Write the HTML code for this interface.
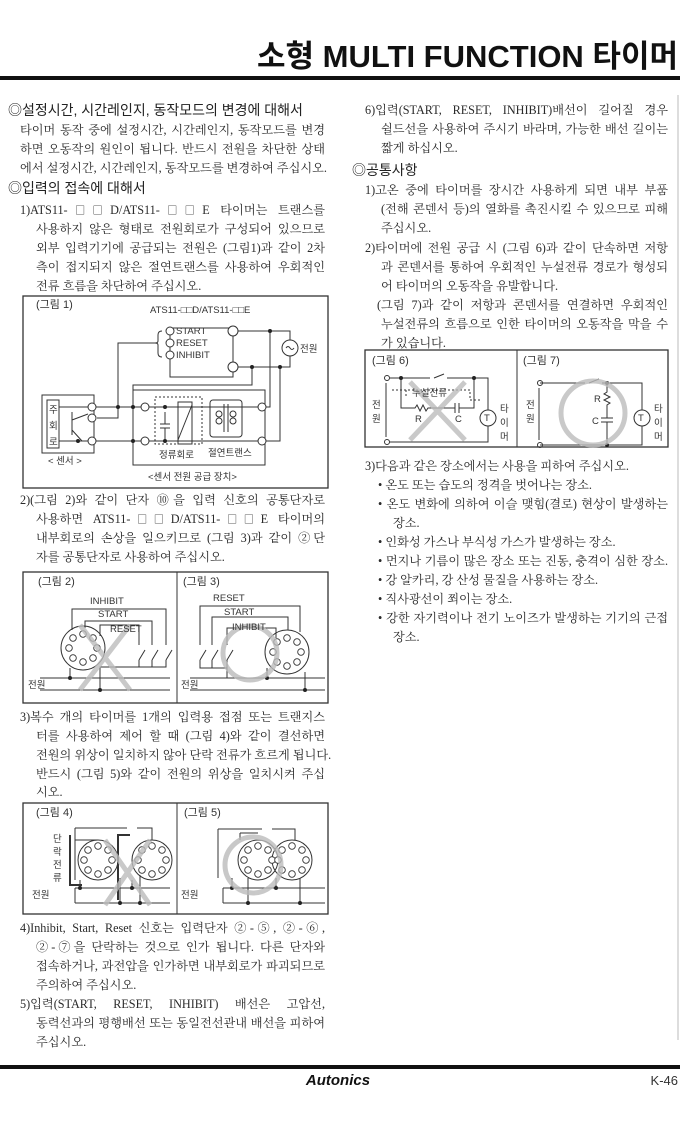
<!DOCTYPE html>
<html><head><meta charset="utf-8">
<style>
html,body{margin:0;padding:0;background:#fff}
#p{position:relative;width:680px;height:1134px;overflow:hidden;background:#fff}
.l{position:absolute;white-space:nowrap;font-family:"Liberation Serif","Noto Serif CJK SC",serif;font-size:12.2px;line-height:18px;color:#2a2a2a;text-align:justify;text-align-last:justify}
.n{text-align-last:left}
.b{font-family:"Noto Sans CJK KR",sans-serif;font-size:10px}
.h{position:absolute;white-space:nowrap;font-family:"Liberation Sans","Noto Sans CJK KR",sans-serif;font-size:14px;line-height:18px;color:#222}
svg{position:absolute;left:0;top:0}
svg text{font-family:"Liberation Sans","Noto Sans CJK KR",sans-serif;fill:#333}
</style></head><body><div id="p">
<svg width="680" height="1134" viewBox="0 0 680 1134">
<defs>
<g id="tm" fill="#fff" stroke="#333" stroke-width="0.9">
<circle cx="14" cy="0" r="3.3"/><circle cx="10" cy="10" r="3.3"/><circle cx="0" cy="14" r="3.3"/><circle cx="-10" cy="10" r="3.3"/><circle cx="-14" cy="0" r="3.3"/><circle cx="-10" cy="-10" r="3.3"/><circle cx="0" cy="-14" r="3.3"/><circle cx="10" cy="-10" r="3.3"/>
</g>
</defs>
<text x="678" y="67" text-anchor="end" font-size="31" font-weight="bold" style="fill:#111">소형 MULTI FUNCTION 타이머</text>
<rect x="0" y="76" width="680" height="4" fill="#111"/>
<rect x="0" y="1065" width="680" height="4" fill="#111"/>
<line x1="678" y1="95" x2="678" y2="1040" stroke="#bbb" stroke-width="1"/>
<text x="338" y="1085" text-anchor="middle" font-size="15" font-weight="bold" font-style="italic" style="fill:#111">Autonics</text>
<text x="678" y="1085" text-anchor="end" font-size="13">K-46</text>

<g stroke="#333" stroke-width="1" fill="none">
<rect x="23" y="296" width="305" height="192" stroke-width="1.3"/>
<rect x="170" y="328" width="63" height="49"/>
<path d="M162 331 q-4 0 -4 4 v6 q0 2 -3 2 q3 0 3 2 v8 q0 4 4 4"/>
<path d="M155 343 H118 V418 H97"/>
<path d="M238 331 H290 V340 M290 356 V367 H238"/>
<circle cx="290" cy="348" r="8"/>
<path d="M286 348 q2 -3 4 0 q2 3 4 0"/>
<rect x="42" y="395" width="52" height="58"/>
<rect x="47" y="400" width="12" height="48"/>
<path d="M59 407 H88 M59 441 H88 M72 412 V435 M72 420 L88 414 M72 430 L82 441"/>
<path d="M96 407 H141 M96 441 H141 M149 407 H258 M149 441 H258"/>
<rect x="133" y="390" width="132" height="75"/>
<path d="M252 367 V385 H133 V441"/>
<rect x="155" y="397" width="47" height="47" stroke-dasharray="2,2"/>
<rect x="178" y="402" width="14" height="42"/>
<path d="M178 440 L192 405"/>
<path d="M165 412 V424 M160 424 H170 M160 428 H170 M165 428 V441"/>
<rect x="210" y="400" width="32" height="37" rx="3"/>
<path d="M224 404 V432 M228 404 V432"/>
<circle cx="219" cy="414" r="3"/><circle cx="219" cy="421" r="3"/><circle cx="233" cy="414" r="3"/><circle cx="233" cy="421" r="3"/>
<path d="M266 407 H270 V331 M266 441 H280 V367"/>
<rect x="23" y="572" width="305" height="131" stroke-width="1.3"/>
<line x1="177" y1="572" x2="177" y2="703"/>
<circle cx="83" cy="648" r="22"/>
<path d="M72 630 V609 H166 V645 M85 628 V621 H152 V645 M100 636 V625 H139 V645"/>
<path d="M139 660 L145 650 M152 660 L158 650 M166 660 L172 650 M139 660 V667 M152 660 V667 M166 660 V667 H100 V670"/>
<path d="M40 678 H170 M40 690 H170 M70 668 V678 M100 670 V690"/>
<circle cx="287" cy="652" r="22"/>
<path d="M200 645 V606 H300 V632 M212 645 V617 H288 V630 M227 645 V628 H276 V638"/>
<path d="M200 660 L206 650 M212 660 L218 650 M227 660 L233 650 M200 660 V668 H227 V660 M212 660 V668 M227 668 V678"/>
<path d="M190 678 H325 M190 690 H325 M267 668 V678 M305 672 V690"/>
<rect x="23" y="803" width="305" height="111" stroke-width="1.3"/>
<line x1="177" y1="803" x2="177" y2="914"/>
<circle cx="98" cy="860" r="20"/><circle cx="152" cy="860" r="20"/>
<path d="M75 888 H170 M75 903 H170 M75 888 V903"/>
<path d="M75 828 H127 M137 828 H152 V840 M75 828 V880 M75 840 H98 M80 880 V888 M120 878 V903 M132 880 V888 M140 875 V903"/>
<path d="M70 835 V885 H82 M130 835 H118 V900" stroke-width="2"/>
<circle cx="258" cy="860" r="20"/><circle cx="292" cy="860" r="20"/>
<path d="M223 888 H325 M223 903 H325 M223 888 V903"/>
<path d="M218 829 H262 M272 829 H295 V840 M218 829 V878 M240 833 H258 M240 833 V840 M232 878 V888 M248 878 V903 M276 878 V888 M300 878 V903"/>
<rect x="365" y="350" width="303" height="97" stroke-width="1.3"/>
<line x1="517" y1="350" x2="517" y2="447"/>
<path d="M390 378 H430 M444 374 L434 378 M447 378 H488 V410 M488 426 V442 H390"/>
<circle cx="387" cy="378" r="2.5"/><circle cx="387" cy="442" r="2.5"/>
<path d="M386 383 V437"/>
<path d="M401 378 V408 H415 l2 -3 l3 6 l3 -6 l3 6 l2 -3 H455 M459 408 H474 V378 M455 403 V413 M459 403 V413"/>
<circle cx="488" cy="418" r="8"/>
<path d="M392 390 H470 V400 H480 M406 390 V398" stroke-dasharray="2,2"/>
<path d="M540 383 H585 M599 379 L589 383 M602 383 H642 V410 M642 426 V445 H540"/>
<circle cx="540" cy="383" r="2.5"/><circle cx="540" cy="445" r="2.5"/>
<path d="M539 388 V440 M607 383 V392 l-3 2 l6 3 l-6 3 l6 3 l-3 2 V418 M601 418 H613 M601 422 H613 M607 422 V445"/>
<circle cx="642" cy="418" r="8"/>
</g>
<use href="#tm" x="83" y="648"/><use href="#tm" x="287" y="652"/>
<use href="#tm" x="98" y="860"/><use href="#tm" x="152" y="860"/>
<use href="#tm" x="258" y="860"/><use href="#tm" x="292" y="860"/>
<g fill="#222">
<circle cx="270" cy="331" r="2"/><circle cx="252" cy="367" r="2"/><circle cx="280" cy="367" r="2"/>
<circle cx="118" cy="407" r="2"/><circle cx="133" cy="407" r="2"/><circle cx="133" cy="441" r="2"/>
<circle cx="165" cy="407" r="2"/><circle cx="165" cy="441" r="2"/><circle cx="78" cy="441" r="2"/>
<circle cx="70" cy="678" r="2"/><circle cx="100" cy="690" r="2"/><circle cx="267" cy="678" r="2"/><circle cx="305" cy="690" r="2"/>
<circle cx="401" cy="378" r="2"/><circle cx="474" cy="378" r="2"/><circle cx="607" cy="383" r="2"/><circle cx="607" cy="445" r="2"/>
<circle cx="80" cy="888" r="2"/><circle cx="120" cy="903" r="2"/><circle cx="132" cy="888" r="2"/><circle cx="140" cy="903" r="2"/>
<circle cx="232" cy="888" r="2"/><circle cx="248" cy="903" r="2"/><circle cx="276" cy="888" r="2"/><circle cx="300" cy="903" r="2"/>
</g>
<g fill="#fff" stroke="#333">
<circle cx="170" cy="331" r="4"/><circle cx="170" cy="343" r="4"/><circle cx="170" cy="355" r="4"/>
<circle cx="233" cy="331" r="5"/><circle cx="233" cy="367" r="5"/>
<circle cx="92" cy="407" r="4"/><circle cx="92" cy="418" r="4"/><circle cx="92" cy="441" r="4"/>
<circle cx="145" cy="407" r="4"/><circle cx="145" cy="441" r="4"/><circle cx="262" cy="407" r="4"/><circle cx="262" cy="441" r="4"/>
</g>
<g stroke="#bbb" stroke-width="5" fill="none" opacity="0.8">
<path d="M80 690 L130 625 M80 625 L130 690"/>
<circle cx="250" cy="653" r="27"/>
<path d="M105 840 L150 905 M105 905 L150 840"/>
<circle cx="253" cy="865" r="28"/>
<path d="M410 382 L465 440 M410 440 L465 382"/>
<circle cx="593" cy="413" r="32"/>
</g>
<g font-size="9.5">
<text x="36" y="308" font-size="11">(그림 1)</text>
<text x="150" y="313">ATS11-□□D/ATS11-□□E</text>
<text x="176" y="334">START</text><text x="176" y="346">RESET</text><text x="176" y="358">INHIBIT</text>
<text x="300" y="352">전원</text>
<text x="49" y="413">주</text><text x="49" y="429">회</text><text x="49" y="445">로</text>
<text x="48" y="464">&lt; 센서 &gt;</text>
<text x="159" y="458">정류회로</text><text x="208" y="456">절연트랜스</text>
<text x="148" y="480">&lt;센서 전원 공급 장치&gt;</text>
<text x="38" y="585" font-size="11">(그림 2)</text>
<text x="90" y="604">INHIBIT</text><text x="98" y="617">START</text><text x="110" y="632">RESET</text>
<text x="28" y="688">전원</text>
<text x="183" y="585" font-size="11">(그림 3)</text>
<text x="213" y="601">RESET</text><text x="224" y="615">START</text><text x="232" y="630">INHIBIT</text>
<text x="181" y="688">전원</text>
<text x="36" y="816" font-size="11">(그림 4)</text>
<text x="53" y="842">단</text><text x="53" y="855">락</text><text x="53" y="868">전</text><text x="53" y="881">류</text>
<text x="32" y="898">전원</text>
<text x="184" y="816" font-size="11">(그림 5)</text>
<text x="181" y="898">전원</text>
<text x="372" y="364" font-size="11">(그림 6)</text>
<text x="412" y="396">누설전류</text>
<text x="372" y="408">전</text><text x="372" y="422">원</text>
<text x="415" y="422">R</text><text x="455" y="422">C</text>
<text x="484" y="421">T</text>
<text x="500" y="412">타</text><text x="500" y="426">이</text><text x="500" y="440">머</text>
<text x="523" y="364" font-size="11">(그림 7)</text>
<text x="526" y="408">전</text><text x="526" y="422">원</text>
<text x="594" y="402">R</text><text x="592" y="424">C</text>
<text x="638" y="421">T</text>
<text x="654" y="412">타</text><text x="654" y="426">이</text><text x="654" y="440">머</text>
</g>
</svg>

<div class="h" style="left:8px;top:101px">◎설정시간, 시간레인지, 동작모드의 변경에 대해서</div>
<div class="l" style="left:20px;top:121px;width:305px">타이머 동작 중에 설정시간, 시간레인지, 동작모드를 변경</div>
<div class="l" style="left:20px;top:140px;width:305px">하면 오동작의 원인이 됩니다. 반드시 전원을 차단한 상태</div>
<div class="l" style="left:20px;top:159px;width:305px">에서 설정시간, 시간레인지, 동작모드를 변경하여 주십시오.</div>
<div class="h" style="left:8px;top:179px">◎입력의 접속에 대해서</div>
<div class="l" style="left:20px;top:201px;width:305px">1)ATS11-<span class="b">□□</span>D/ATS11-<span class="b">□□</span>E 타이머는 트랜스를</div>
<div class="l" style="left:36px;top:220px;width:289px">사용하지 않은 형태로 전원회로가 구성되어 있으므로</div>
<div class="l" style="left:36px;top:239px;width:289px">외부 입력기기에 공급되는 전원은 (그림1)과 같이 2차</div>
<div class="l" style="left:36px;top:258px;width:289px">측이 접지되지 않은 절연트랜스를 사용하여 우회적인</div>
<div class="l n" style="left:36px;top:277px">전류 흐름을 차단하여 주십시오.</div>
<div class="l" style="left:20px;top:491px;width:305px">2)(그림 2)와 같이 단자 ⑩을 입력 신호의 공통단자로</div>
<div class="l" style="left:36px;top:510px;width:289px">사용하면 ATS11-<span class="b">□□</span>D/ATS11-<span class="b">□□</span>E 타이머의</div>
<div class="l" style="left:36px;top:529px;width:289px">내부회로의 손상을 일으키므로 (그림 3)과 같이 ②단</div>
<div class="l n" style="left:36px;top:548px">자를 공통단자로 사용하여 주십시오.</div>
<div class="l" style="left:20px;top:708px;width:305px">3)복수 개의 타이머를 1개의 입력용 접점 또는 트랜지스</div>
<div class="l" style="left:36px;top:727px;width:289px">터를 사용하여 제어 할 때 (그림 4)와 같이 결선하면</div>
<div class="l" style="left:36px;top:746px;width:289px">전원의 위상이 일치하지 않아 단락 전류가 흐르게 됩니다.</div>
<div class="l" style="left:36px;top:765px;width:289px">반드시 (그림 5)와 같이 전원의 위상을 일치시켜 주십</div>
<div class="l n" style="left:36px;top:783px">시오.</div>
<div class="l" style="left:20px;top:919px;width:305px">4)Inhibit, Start, Reset 신호는 입력단자 ②-⑤, ②-⑥,</div>
<div class="l" style="left:36px;top:938px;width:289px">②-⑦을 단락하는 것으로 인가 됩니다. 다른 단자와</div>
<div class="l" style="left:36px;top:957px;width:289px">접속하거나, 과전압을 인가하면 내부회로가 파괴되므로</div>
<div class="l n" style="left:36px;top:976px">주의하여 주십시오.</div>
<div class="l" style="left:20px;top:995px;width:305px">5)입력(START, RESET, INHIBIT) 배선은 고압선,</div>
<div class="l" style="left:36px;top:1014px;width:289px">동력선과의 평행배선 또는 동일전선관내 배선을 피하여</div>
<div class="l n" style="left:36px;top:1033px">주십시오.</div>

<div class="l" style="left:365px;top:101px;width:303px">6)입력(START, RESET, INHIBIT)배선이 길어질 경우</div>
<div class="l" style="left:381px;top:120px;width:287px">쉴드선을 사용하여 주시기 바라며, 가능한 배선 길이는</div>
<div class="l n" style="left:381px;top:139px">짧게 하십시오.</div>
<div class="h" style="left:352px;top:161px">◎공통사항</div>
<div class="l" style="left:365px;top:181px;width:303px">1)고온 중에 타이머를 장시간 사용하게 되면 내부 부품</div>
<div class="l" style="left:381px;top:200px;width:287px">(전해 콘덴서 등)의 열화를 촉진시킬 수 있으므로 피해</div>
<div class="l n" style="left:381px;top:219px">주십시오.</div>
<div class="l" style="left:365px;top:239px;width:303px">2)타이머에 전원 공급 시 (그림 6)과 같이 단속하면 저항</div>
<div class="l" style="left:381px;top:258px;width:287px">과 콘덴서를 통하여 우회적인 누설전류 경로가 형성되</div>
<div class="l n" style="left:381px;top:277px">어 타이머의 오동작을 유발합니다.</div>
<div class="l" style="left:377px;top:296px;width:291px">(그림 7)과 같이 저항과 콘덴서를 연결하면 우회적인</div>
<div class="l" style="left:381px;top:315px;width:287px">누설전류의 흐름으로 인한 타이머의 오동작을 막을 수</div>
<div class="l n" style="left:381px;top:334px">가 있습니다.</div>
<div class="l n" style="left:365px;top:457px">3)다음과 같은 장소에서는 사용을 피하여 주십시오.</div>
<div class="l n" style="left:378px;top:476px">• 온도 또는 습도의 정격을 벗어나는 장소.</div>
<div class="l" style="left:378px;top:495px;width:290px">• 온도 변화에 의하여 이슬 맺힘(결로) 현상이 발생하는</div>
<div class="l n" style="left:393px;top:514px">장소.</div>
<div class="l n" style="left:378px;top:533px">• 인화성 가스나 부식성 가스가 발생하는 장소.</div>
<div class="l" style="left:378px;top:552px;width:290px">• 먼지나 기름이 많은 장소 또는 진동, 충격이 심한 장소.</div>
<div class="l n" style="left:378px;top:571px">• 강 알카리, 강 산성 물질을 사용하는 장소.</div>
<div class="l n" style="left:378px;top:590px">• 직사광선이 쬐이는 장소.</div>
<div class="l" style="left:378px;top:609px;width:290px">• 강한 자기력이나 전기 노이즈가 발생하는 기기의 근접</div>
<div class="l n" style="left:393px;top:628px">장소.</div>
</div></body></html>
